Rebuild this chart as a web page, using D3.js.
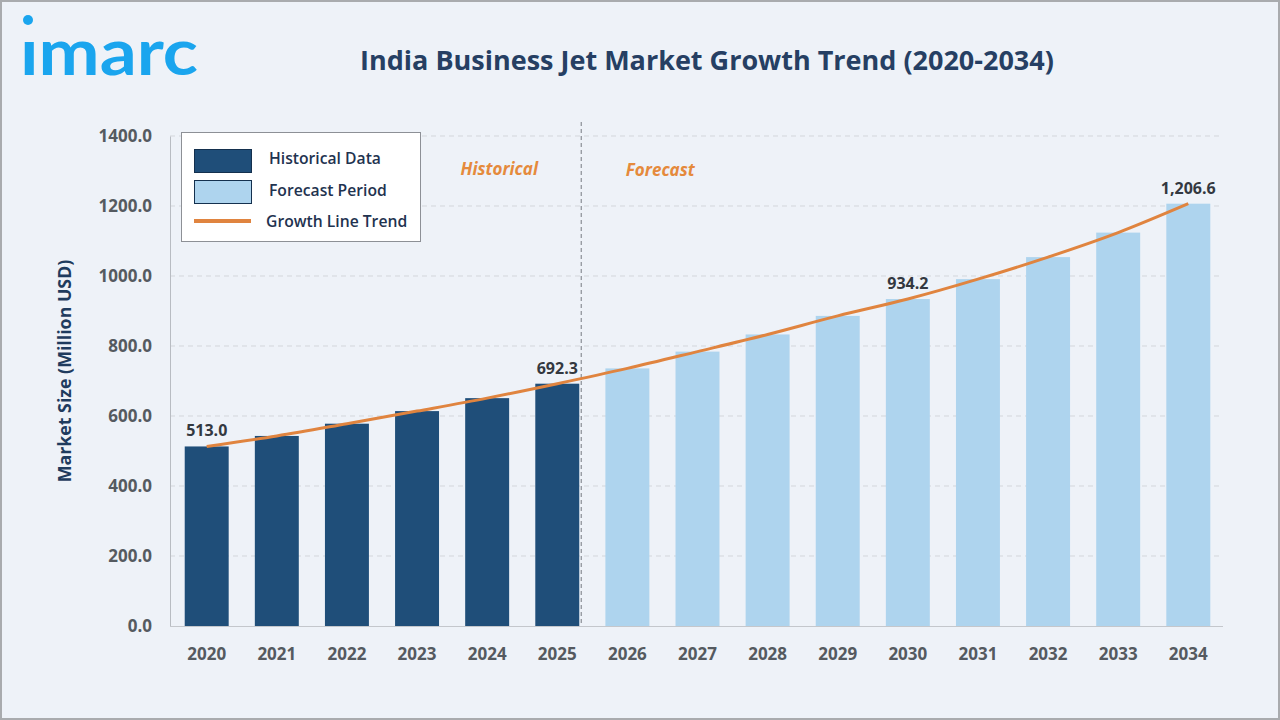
<!DOCTYPE html>
<html><head><meta charset="utf-8">
<script src="https://cdn.jsdelivr.net/npm/d3@7/dist/d3.min.js"></script>
<style>
html,body{margin:0;padding:0;background:#fff;}
svg{display:block;font-family:"Open Sans","Noto Sans",sans-serif;}
</style></head>
<body>
<svg id="c" width="1280" height="720"></svg>
<script>
const years = ["2020","2021","2022","2023","2024","2025","2026","2027","2028","2029","2030","2031","2032","2033","2034"];
const values = [513.0,543,578,614,651,692.3,736,784,833,886,934.2,991,1054,1124,1206.6];
const historicalYears = ["2020","2021","2022","2023","2024","2025"];
const labeledYears = ["2020","2025","2030","2034"];
const yTicks = [0,200,400,600,800,1000,1200,1400];
const legendItems = ["Historical Data","Forecast Period","Growth Line Trend"];

const data = years.map((y,i)=>({year:y,value:values[i],hist:historicalYears.includes(y)}));
const svg = d3.select("#c");
const W=1280,H=720;
svg.append("rect").attr("x",0).attr("y",0).attr("width",W).attr("height",H).attr("fill","#eef2f8");
svg.append("rect").attr("x",1).attr("y",1).attr("width",W-2).attr("height",H-2).attr("fill","none").attr("stroke","#a9abae").attr("stroke-width",2);

// logo
svg.append("text").attr("x",20).attr("y",75).attr("font-family","Lato, 'Open Sans', sans-serif").attr("font-weight",700)
  .attr("font-size",64).attr("fill","#1aa5ee").attr("textLength",178).attr("lengthAdjust","spacingAndGlyphs").text("ımarc");
svg.append("circle").attr("cx",28).attr("cy",20).attr("r",5).attr("fill","#1aa5ee");

// title
svg.append("text").attr("x",707).attr("y",70).attr("text-anchor","middle").attr("font-size",27).attr("font-weight",700)
  .attr("fill","#263f63").text("India Business Jet Market Growth Trend (2020-2034)");

const m={l:170,r:1223,t:136,b:626};
const x=d3.scaleBand().domain(years).range([m.l,1225]).paddingInner(0.373).paddingOuter(0.21);
const y=d3.scaleLinear().domain([0,1400]).range([m.b,m.t]);

// grid
svg.append("g").selectAll("line").data(yTicks.filter(d=>d>0)).join("line")
  .attr("x1",m.l).attr("x2",m.r).attr("y1",d=>y(d)).attr("y2",d=>y(d))
  .attr("stroke","#d3d6db").attr("stroke-dasharray","5,4").attr("stroke-width",1);

// y axis
const yAxis=svg.append("g").attr("transform",`translate(${m.l},0)`).call(d3.axisLeft(y).tickValues(yTicks).tickFormat(d3.format(".1f")).tickSize(0).tickPadding(18));
yAxis.select(".domain").attr("stroke","#b8bcc2");
yAxis.selectAll("text").attr("font-size",17).attr("font-weight",700).attr("fill","#555a60").attr("font-family","'Open Sans',sans-serif");

// bars
svg.append("g").selectAll("rect").data(data).join("rect")
  .attr("x",d=>x(d.year)).attr("width",x.bandwidth())
  .attr("y",d=>y(d.value)).attr("height",d=>y(0)-y(d.value))
  .attr("fill",d=>d.hist?"#1f4e79":"#aed4ee");

// x axis
const xAxis=svg.append("g").attr("transform",`translate(0,${m.b})`).call(d3.axisBottom(x).tickSize(0).tickPadding(22));
xAxis.select(".domain").attr("d",`M${m.l},0.5H${m.r}`).attr("stroke","#c4c7cc");
xAxis.selectAll("text").attr("font-size",17).attr("font-weight",700).attr("fill","#555a60").attr("font-family","'Open Sans',sans-serif");

// divider
const divX=x("2025")+x.bandwidth()+2;
svg.append("line").attr("x1",divX).attr("x2",divX).attr("y1",122).attr("y2",m.b)
  .attr("stroke","#8a8f96").attr("stroke-dasharray","4,3").attr("stroke-width",1.2);
svg.append("text").attr("x",divX-82).attr("y",175).attr("text-anchor","middle").attr("font-size",17).attr("font-weight",700)
  .attr("font-style","italic").attr("fill","#e58a3c").text("Historical");
svg.append("text").attr("x",divX+79).attr("y",176).attr("text-anchor","middle").attr("font-size",17).attr("font-weight",700)
  .attr("font-style","italic").attr("fill","#e58a3c").text("Forecast");

// trend line
const line=d3.line().x(d=>x(d.year)+x.bandwidth()/2).y(d=>y(d.value)).curve(d3.curveMonotoneX);
svg.append("path").datum(data).attr("d",line).attr("fill","none").attr("stroke","#e0843f").attr("stroke-width",3);

// labels
svg.append("g").selectAll("text").data(data.filter(d=>labeledYears.includes(d.year))).join("text")
  .attr("x",d=>x(d.year)+x.bandwidth()/2).attr("y",d=>y(d.value)-10).attr("text-anchor","middle")
  .attr("font-size",16).attr("font-weight",700).attr("fill","#333840")
  .text(d=>d.value>=1000?d3.format(",.1f")(d.value):d3.format(".1f")(d.value));

// y label
svg.append("text").attr("transform","translate(71,371) rotate(-90)").attr("text-anchor","middle")
  .attr("font-size",17.8).attr("font-weight",700).attr("fill","#1f3b5e").text("Market Size (Million USD)");

// legend
const lg=svg.append("g");
lg.append("rect").attr("x",181.5).attr("y",132.5).attr("width",239).attr("height",109).attr("fill","#fff").attr("stroke","#8d9096");
lg.append("rect").attr("x",194.5).attr("y",149.5).attr("width",57).attr("height",23).attr("fill","#1f4e79").attr("stroke","#14304e");
lg.append("rect").attr("x",194.5).attr("y",180.5).attr("width",57).attr("height",23).attr("fill","#aed4ee").attr("stroke","#14304e");
lg.append("line").attr("x1",194).attr("x2",251).attr("y1",221).attr("y2",221).attr("stroke","#e0843f").attr("stroke-width",4);
const lgY=[164,196,227], lgX=[269,269,266];
lg.selectAll("text.l").data(legendItems).join("text").attr("class","l")
  .attr("x",(d,i)=>lgX[i]).attr("y",(d,i)=>lgY[i]).attr("font-size",15.7).attr("font-weight",600).attr("fill","#1f3350").text(d=>d);
</script>
</body></html>
